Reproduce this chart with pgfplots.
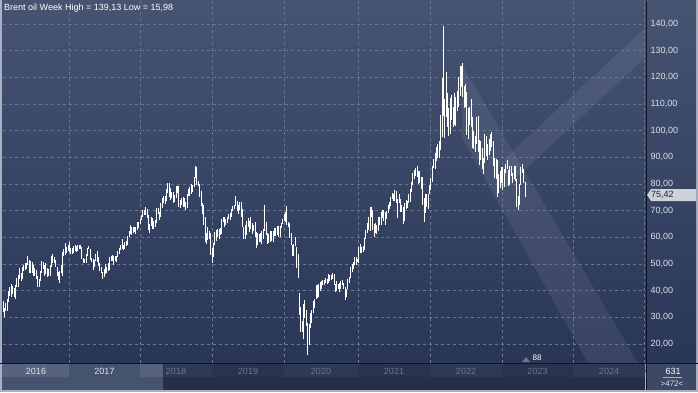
\documentclass[border=0pt]{standalone}
\usepackage{fontspec}
\setmainfont{Liberation Sans}
\usepackage{pgfplots}
\usepackage{pgfplotstable}
\pgfplotsset{compat=1.18}
\definecolor{framec}{RGB}{168,177,194}
\definecolor{bgtop}{RGB}{70,84,114}
\definecolor{bgbot}{RGB}{41,54,86}
\definecolor{gridc}{RGB}{104,118,148}
\definecolor{lab}{RGB}{220,225,234}
\definecolor{navA}{RGB}{86,98,126}
\definecolor{navB}{RGB}{70,83,111}
\definecolor{cellA}{RGB}{46,58,85}
\definecolor{cellB}{RGB}{41,51,77}
\definecolor{rowtwo}{RGB}{37,47,72}
\definecolor{rpanel}{RGB}{60,73,102}
\definecolor{divc}{RGB}{13,20,34}
\definecolor{yeargrey}{RGB}{107,118,145}
\definecolor{pricebox}{RGB}{205,210,218}
\definecolor{pricetxt}{RGB}{27,33,48}

\pgfplotstableread[row sep=\\]{
lo hi\\
32.0 36.3\\ 30.0 33.5\\ 32.2 35.5\\ 32.5 37.0\\ 35.8 39.8\\ 38.0 41.5\\ 37.5 42.5\\ 38.9 41.9\\ 37.7 40.9\\ 36.8 42.0\\
41.5 44.6\\ 41.5 45.9\\ 44.2 48.5\\ 43.6 46.5\\ 44.5 49.0\\ 47.5 49.5\\ 47.6 50.5\\ 48.0 50.5\\ 49.5 52.9\\ 46.8 51.5\\
46.7 51.0\\ 46.5 50.7\\ 45.6 49.5\\ 45.5 48.5\\ 44.5 47.7\\ 41.5 45.4\\ 41.5 44.5\\ 43.5 47.2\\ 46.5 51.2\\ 48.0 50.8\\
45.5 49.5\\ 46.3 50.2\\ 45.0 48.5\\ 45.5 48.0\\ 45.5 49.5\\ 49.0 53.0\\ 50.5 53.7\\ 50.5 52.8\\ 48.8 51.5\\ 45.5 49.0\\
44.0 47.0\\ 43.0 47.2\\ 46.5 49.5\\ 45.5 54.5\\ 53.0 55.5\\ 53.5 57.9\\ 54.0 56.2\\ 55.0 57.0\\
54.5 58.4\\ 53.6 56.0\\ 53.6 56.0\\ 54.3 56.9\\ 55.0 57.3\\ 54.5 56.9\\ 55.0 57.0\\ 55.6 57.2\\ 55.5 57.0\\ 51.9 56.4\\
50.3 52.4\\ 50.2 51.9\\ 50.2 53.7\\ 52.9 55.9\\ 55.5 56.7\\ 51.6 55.6\\ 50.8 52.4\\ 47.6 51.9\\ 48.9 51.5\\ 51.0 53.8\\
50.7 54.7\\ 49.3 52.5\\ 47.5 50.4\\ 46.7 48.9\\ 44.4 47.0\\ 45.3 48.1\\ 46.3 50.0\\ 46.5 49.0\\ 47.5 50.5\\ 47.8 52.7\\
51.0 53.0\\ 51.0 53.2\\ 49.7 52.9\\ 51.2 52.9\\ 50.6 53.0\\ 52.6 55.0\\ 53.6 56.0\\ 55.1 57.0\\ 55.6 59.5\\ 55.3 57.3\\
55.8 58.3\\ 56.7 58.6\\ 57.3 60.5\\ 60.2 62.3\\ 61.4 64.7\\ 61.0 64.0\\ 61.8 63.9\\ 62.0 64.0\\ 61.2 64.0\\ 62.6 65.8\\
63.4 65.6\\ 64.9 67.0\\
66.5 68.3\\ 67.5 70.1\\ 68.3 70.4\\ 68.3 71.3\\ 67.4 70.5\\ 62.6 68.5\\ 61.8 65.1\\ 64.3 67.7\\ 63.3 67.3\\ 63.2 66.3\\
63.9 66.5\\ 65.4 71.0\\ 68.6 71.0\\ 66.6 69.6\\ 67.5 73.0\\ 71.0 74.8\\ 72.7 75.5\\ 72.6 75.6\\ 73.6 78.0\\ 76.7 80.5\\
75.3 80.4\\ 74.1 78.4\\ 74.6 77.1\\ 72.8 76.9\\ 73.2 75.9\\ 74.8 79.4\\ 76.7 79.2\\ 71.5 79.2\\ 71.1 74.0\\ 72.0 74.8\\
71.5 75.3\\ 71.4 74.7\\ 70.3 73.4\\ 71.0 76.2\\ 75.6 78.3\\ 75.6 78.7\\ 76.3 80.1\\ 77.0 79.6\\ 78.7 82.6\\ 82.4 86.7\\
79.5 86.4\\ 79.1 81.2\\ 75.1 80.0\\ 71.8 77.3\\ 68.9 73.0\\ 64.6 72.0\\ 58.4 67.5\\ 57.5 61.6\\ 59.0 63.7\\ 59.5 62.3\\
53.2 61.5\\ 50.2 56.0\\
52.5 58.0\\ 57.0 61.9\\ 58.5 62.8\\ 60.0 63.3\\ 59.3 63.3\\ 61.0 63.5\\ 61.2 66.8\\ 65.8 67.7\\ 64.0 67.6\\ 64.8 66.8\\
65.4 67.6\\ 66.8 68.7\\ 66.5 69.2\\ 67.8 70.5\\ 69.9 71.8\\ 70.6 72.3\\ 71.8 75.6\\ 69.9 73.7\\ 68.8 72.2\\ 70.1 73.3\\
67.6 73.2\\ 63.7 70.5\\ 59.5 64.0\\ 59.4 64.7\\ 60.9 66.1\\ 64.0 67.1\\ 61.9 66.0\\ 63.3 67.7\\ 61.1 65.4\\ 62.3 64.8\\
60.0 65.7\\ 55.9 61.9\\ 57.3 61.8\\ 58.2 61.1\\ 58.2 61.6\\ 57.6 62.5\\ 59.5 63.3\\ 62.2 72.0\\ 60.9 65.7\\ 57.4 61.5\\
57.9 61.2\\ 58.3 62.2\\ 58.6 62.5\\ 58.3 62.2\\ 60.6 63.5\\ 60.6 63.4\\ 61.0 64.4\\ 60.0 64.4\\ 60.2 64.4\\ 63.4 65.4\\
65.0 66.9\\ 66.0 68.7\\ 65.6 69.5\\
64.8 71.8\\ 63.7 65.6\\ 59.8 65.3\\ 57.3 61.5\\ 53.0 57.0\\ 53.1 57.5\\ 56.6 60.0\\ 48.4 56.2\\ 44.9 53.9\\ 31.0 39.0\\
24.5 34.0\\ 24.5 28.8\\ 21.7 35.0\\ 29.8 36.5\\ 26.9 32.6\\ 16.0 28.0\\ 19.5 27.5\\ 26.0 31.6\\ 27.7 32.7\\ 31.6 36.1\\
33.5 37.0\\ 37.0 42.3\\ 37.2 42.3\\ 37.7 42.5\\ 39.7 43.4\\ 40.5 43.5\\ 42.0 43.9\\ 42.2 44.0\\ 42.8 44.6\\ 42.5 44.3\\
43.0 46.1\\ 43.5 45.9\\ 43.9 45.9\\ 44.5 46.5\\ 42.0 46.3\\ 39.4 42.6\\ 39.8 43.8\\ 40.6 42.4\\ 39.5 43.0\\ 40.5 43.8\\
42.0 43.9\\ 40.8 42.8\\ 36.5 41.5\\ 37.5 40.6\\ 40.5 44.4\\ 42.8 45.3\\ 44.8 48.8\\ 47.0 49.9\\ 48.3 50.9\\ 49.8 52.5\\
49.5 52.5\\ 50.6 52.0\\
50.4 56.3\\ 54.0 57.4\\ 54.0 56.4\\ 54.5 56.6\\ 55.3 59.8\\ 59.5 62.7\\ 61.5 65.5\\ 62.6 67.7\\ 62.4 71.4\\ 67.5 71.4\\
62.9 70.4\\ 60.3 65.0\\ 61.6 65.5\\ 61.2 64.5\\ 62.2 67.5\\ 64.5 67.7\\ 64.8 69.6\\ 67.1 70.1\\ 66.3 70.1\\ 64.6 69.6\\
66.7 69.8\\ 69.0 72.3\\ 70.7 73.1\\ 71.6 75.3\\ 74.2 76.6\\ 73.5 76.2\\ 73.5 77.8\\ 72.7 77.2\\ 67.4 74.2\\ 72.9 76.3\\
69.6 74.5\\ 69.5 72.0\\ 65.0 71.4\\ 66.0 72.7\\ 70.6 73.9\\ 71.1 73.7\\ 72.7 76.1\\ 73.1 78.3\\ 77.1 80.7\\ 79.5 84.0\\
82.0 85.1\\ 83.0 86.1\\ 82.5 86.7\\ 80.1 85.0\\ 80.5 84.7\\ 78.3 82.6\\ 72.0 82.5\\ 65.7 74.9\\ 69.3 76.3\\ 71.5 76.2\\
70.5 76.4\\ 76.4 79.6\\
77.6 82.4\\ 80.6 86.7\\ 85.9 89.5\\ 85.7 91.7\\ 88.7 93.7\\ 89.6 95.0\\ 89.7 96.2\\ 92.9 105.8\\ 97.5 119.8\\ 105.5 139.1\\
97.4 112.0\\ 105.0 122.0\\ 101.5 114.0\\ 98.0 108.4\\ 98.9 112.2\\ 104.1 113.4\\ 101.5 109.0\\ 102.0 114.0\\ 101.7 112.5\\ 107.2 114.8\\
108.9 120.1\\ 113.0 124.4\\ 116.5 124.4\\ 112.5 125.2\\ 108.6 116.8\\ 109.0 117.5\\ 98.5 114.5\\ 96.7 108.6\\ 102.0 108.7\\ 101.5 112.0\\
93.3 105.0\\ 93.0 100.0\\ 92.0 98.1\\ 95.0 105.0\\ 91.8 105.6\\ 87.0 96.6\\ 89.0 96.0\\ 85.8 93.6\\ 83.6 89.8\\ 87.7 98.8\\
90.4 98.0\\ 89.1 94.9\\ 91.0 96.8\\ 92.2 98.8\\ 94.0 99.6\\ 86.7 96.0\\ 82.3 89.9\\ 81.8 89.4\\ 75.1 88.9\\ 76.5 83.6\\
78.5 84.7\\ 80.5 86.4\\
77.6 86.2\\ 78.9 85.5\\ 84.0 87.5\\ 85.7 89.1\\ 79.1 85.3\\ 79.5 86.9\\ 82.9 86.7\\ 80.5 84.3\\ 82.0 86.8\\ 81.3 86.8\\
71.4 82.0\\ 70.1 75.5\\ 72.2 79.9\\ 79.6 86.4\\ 84.0 87.5\\ 80.4 85.8\\ 75.1 80.7\\
}\brent

\begin{document}
\begin{tikzpicture}[x=1pt,y=1pt]
\useasboundingbox (0,0) rectangle (698,392);
\fill[framec] (0,0) rectangle (698,392);
\shade[top color=bgtop,bottom color=bgbot] (2,29) rectangle (696,391);
% trend channel bands
\fill[white,opacity=0.07] (462,327) -- (638,29) -- (588,29) -- (462,254) -- cycle;
\fill[white,opacity=0.07] (505,203.8) -- (645,334) -- (645,364) -- (505,233.8) -- cycle;

\begin{axis}[
  at={(3pt,29pt)}, anchor=south west,
  scale only axis, width=642pt, height=362pt,
  xmin=3, xmax=645, ymin=12.875, ymax=148.6,
  axis line style={draw=none},
  major tick length=0pt,
  xtick={69,140,212,284,358,430,502,573,644},
  xticklabel={},
  ytick={20,30,...,140},
  yticklabel pos=right,
  yticklabel style={anchor=west, xshift=2pt, text=lab,
    font=\fontsize{9}{10}\selectfont,
    /pgf/number format/.cd, fixed, fixed zerofill, precision=2, use comma, assume math mode=true},
  grid=major,
  grid style={gridc, line width=0.6pt, dash pattern=on 3pt off 3pt},
]
\addplot[white, draw=none, mark=none, forget plot,
  error bars/.cd, y dir=both, y explicit, error mark=none,
  error bar style={draw=white, line width=1pt}]
  table[x expr=3+\coordindex*1.385,
        y expr=0.5*(\thisrow{lo}+\thisrow{hi}),
        y error expr=0.5*(\thisrow{hi}-\thisrow{lo})] {\brent};
\end{axis}

% title
\node[anchor=west, inner sep=0pt, text=white, font=\fontsize{9}{10}\selectfont] at (4,384) {Brent oil Week High = 139,13 Low = 15,98};

% bottom navigator strip
\fill[navA] (2,15) rectangle (69,28);
\fill[navB] (69,15) rectangle (140,28);
\fill[navA] (140,15) rectangle (163,28);
\fill[navB] (2,2) rectangle (163,15);
\fill[cellA] (163,15) rectangle (212,28);
\fill[cellB] (212,15) rectangle (284,28);
\fill[cellA] (284,15) rectangle (358,28);
\fill[cellB] (358,15) rectangle (430,28);
\fill[cellA] (430,15) rectangle (502,28);
\fill[cellB] (502,15) rectangle (573,28);
\fill[cellA] (573,15) rectangle (645,28);
\fill[rowtwo] (163,2) rectangle (645,15);
\draw[rpanel!70!black, line width=1pt] (163.5,2) -- (163.5,28);
\fill[rpanel] (646,2) rectangle (696,28);
\begin{scope}[font=\fontsize{9}{10}\selectfont]
\node[text=lab] at (36,21) {2016};
\node[text=lab] at (104.5,21) {2017};
\node[text=yeargrey] at (176,21) {2018};
\node[text=yeargrey] at (248,21) {2019};
\node[text=yeargrey] at (321,21) {2020};
\node[text=yeargrey] at (394,21) {2021};
\node[text=yeargrey] at (466,21) {2022};
\node[text=yeargrey] at (537.5,21) {2023};
\node[text=yeargrey] at (609,21) {2024};
\node[text=white] at (673,21) {631};
\end{scope}
\draw[lab!70!rpanel, line width=0.5pt] (663,14.5) -- (682,14.5);
\node[text=lab, font=\fontsize{8}{9}\selectfont] at (672,8.5) {>472<};

% separators
\draw[divc, line width=1.2pt] (0,28.6) -- (698,28.6);
\draw[divc, line width=1pt] (646,2) -- (646,391);

% price marker
\fill[pricebox] (647,197) -- (651,203) -- (696,203) -- (696,191) -- (651,191) -- cycle;
\node[anchor=west, inner sep=0pt, text=pricetxt, font=\fontsize{9}{10}\selectfont] at (651,197) {75,42};

% bar count marker
\fill[yeargrey] (522,30) -- (526,35) -- (530,30) -- cycle;
\node[text=white, font=\fontsize{8}{9}\selectfont, inner sep=0pt] at (537,34.5) {88};
\end{tikzpicture}
\end{document}
